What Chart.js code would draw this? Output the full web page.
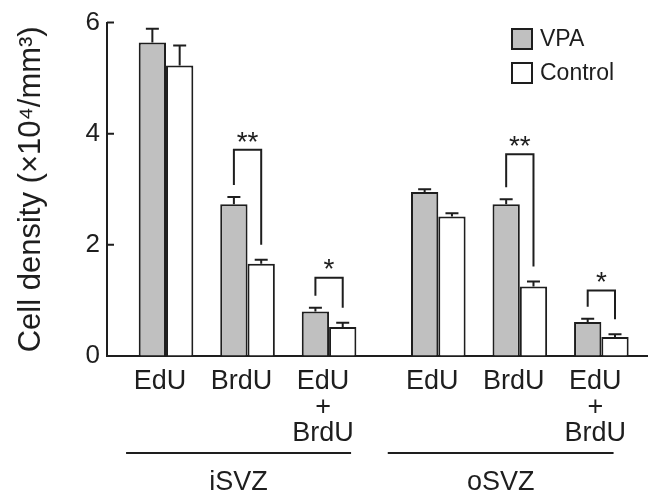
<!DOCTYPE html>
<html>
<head>
<meta charset="utf-8">
<script src="https://cdn.jsdelivr.net/npm/chart.js@4.4.1/dist/chart.umd.min.js"></script>
<style>
    body { margin: 0; background: #fff; }
    #wrap { width: 649px; height: 492px; }
</style>
</head>
<body>
<div id="wrap"><canvas id="myChart" width="649" height="492"></canvas></div>
<script>
// values (x10^4 / mm^3)
const tickLabels = [['EdU'], ['BrdU'], ['EdU', '+', 'BrdU'], ['EdU'], ['BrdU'], ['EdU', '+', 'BrdU']];
const groupNames = ['iSVZ', 'oSVZ'];
const vpa = [5.64, 2.73, 0.80, 2.95, 2.73, 0.61];
const vpaErr = [0.25, 0.13, 0.07, 0.05, 0.09, 0.06];
const control = [5.23, 1.66, 0.52, 2.51, 1.25, 0.34];
const controlErr = [0.36, 0.07, 0.08, 0.06, 0.09, 0.05];
const yTicks = [0, 2, 4, 6];

// layout: where each pair sits on the x axis, and the group underline spans
const pairPos = [0, 1, 2, 3.34, 4.34, 5.34];
const groupSpans = [[-0.49, 2.27], [2.72, 5.49]];
// significance brackets: pair index, bracket height, mark
const brackets = [
    { i: 1, top: 3.71, mark: '**' },
    { i: 2, top: 1.41, mark: '*' },
    { i: 4, top: 3.63, mark: '**' },
    { i: 5, top: 1.18, mark: '*' }
];

const FONT = '"Liberation Sans", Arial, sans-serif';
const INK = '#1e1e1e';

const extras = {
    id: 'extras',
    afterDatasetsDraw(chart) {
        const c = chart.ctx;
        const xs = chart.scales.x;
        const ys = chart.scales.y;
        const errs = [vpaErr, controlErr];
        const vals = [vpa, control];
        c.save();
        c.strokeStyle = INK;
        c.lineWidth = 2;

        // error bars (upper only)
        [0, 1].forEach(d => {
            chart.getDatasetMeta(d).data.forEach((bar, j) => {
                const yTop = ys.getPixelForValue(vals[d][j] + errs[d][j]);
                c.beginPath();
                c.moveTo(bar.x, bar.y);
                c.lineTo(bar.x, yTop);
                c.moveTo(bar.x - 6.5, yTop);
                c.lineTo(bar.x + 6.5, yTop);
                c.stroke();
            });
        });

        // brackets
        c.fillStyle = INK;
        c.font = '28px ' + FONT;
        c.textAlign = 'center';
        c.textBaseline = 'middle';
        brackets.forEach(b => {
            const l = chart.getDatasetMeta(0).data[b.i].x;
            const r = chart.getDatasetMeta(1).data[b.i].x;
            const lb = ys.getPixelForValue(vpa[b.i] + vpaErr[b.i]) - 12;
            const rb = ys.getPixelForValue(control[b.i] + controlErr[b.i]) - 15;
            const t = ys.getPixelForValue(b.top);
            c.beginPath();
            c.moveTo(l, lb);
            c.lineTo(l, t);
            c.lineTo(r, t);
            c.lineTo(r, rb);
            c.stroke();
            c.fillText(b.mark, (l + r) / 2, t - 7);
        });

        // y tick marks pointing inward
        c.beginPath();
        yTicks.forEach(v => {
            const y = ys.getPixelForValue(v);
            c.moveTo(xs.left, y);
            c.lineTo(xs.left + 7, y);
        });
        c.stroke();

        // group underlines and names
        c.font = '27px ' + FONT;
        groupNames.forEach((name, g) => {
            const a = xs.getPixelForValue(groupSpans[g][0]);
            const b = xs.getPixelForValue(groupSpans[g][1]);
            c.beginPath();
            c.moveTo(a, 453);
            c.lineTo(b, 453);
            c.stroke();
            c.fillText(name, (a + b) / 2, 483);
        });

        // legend
        const items = [['VPA', '#c0c0c0'], ['Control', '#ffffff']];
        c.textAlign = 'left';
        c.font = '23px ' + FONT;
        items.forEach((it, k) => {
            const y = 29 + k * 34;
            c.fillStyle = it[1];
            c.fillRect(512, y, 20, 20);
            c.strokeRect(512, y, 20, 20);
            c.fillStyle = INK;
            c.fillText(it[0], 540, y + 11);
        });
        c.restore();
    }
};

const ctx = document.getElementById('myChart');

new Chart(ctx, {
    type: 'bar',
    data: {
        datasets: [
            {
                label: 'VPA',
                data: vpa.map((v, i) => ({ x: pairPos[i], y: v })),
                backgroundColor: '#c0c0c0',
                borderColor: INK,
                borderWidth: 2
            },
            {
                label: 'Control',
                data: control.map((v, i) => ({ x: pairPos[i], y: v })),
                backgroundColor: '#ffffff',
                borderColor: INK,
                borderWidth: 2
            }
        ]
    },
    options: {
        responsive: false,
        animation: false,
        categoryPercentage: 0.67,
        barPercentage: 1.0,
        layout: { padding: { top: 20, right: 2, left: 0, bottom: 0 } },
        plugins: {
            legend: { display: false },
            tooltip: { enabled: false }
        },
        scales: {
            x: {
                type: 'linear',
                offset: false,
                min: -0.724,
                max: 5.9,
                afterBuildTicks: (axis) => {
                    axis.ticks = pairPos.map(p => ({ value: p }));
                },
                afterFit: (axis) => { axis.height = 136; },
                ticks: {
                    autoSkip: false,
                    maxRotation: 0,
                    labelOffset: -6,
                    padding: 13,
                    color: INK,
                    font: { family: FONT, size: 27, lineHeight: 0.95 },
                    callback: (value, index) => tickLabels[index]
                },
                grid: { display: true, drawOnChartArea: false, drawTicks: false },
                border: { color: INK, width: 2 }
            },
            y: {
                min: 0,
                max: 6,
                afterBuildTicks: (axis) => {
                    axis.ticks = yTicks.map(v => ({ value: v }));
                },
                afterFit: (axis) => { axis.width = 107; },
                ticks: {
                    padding: 7,
                    color: INK,
                    font: { family: FONT, size: 26 }
                },
                grid: { display: true, drawOnChartArea: false, drawTicks: false },
                border: { color: INK, width: 2 },
                title: {
                    display: true,
                    text: 'Cell density (×10⁴/mm³)',
                    color: INK,
                    font: { family: FONT, size: 31 },
                    padding: { top: 13, bottom: 0 }
                }
            }
        }
    },
    plugins: [extras]
});
</script>
</body>
</html>
